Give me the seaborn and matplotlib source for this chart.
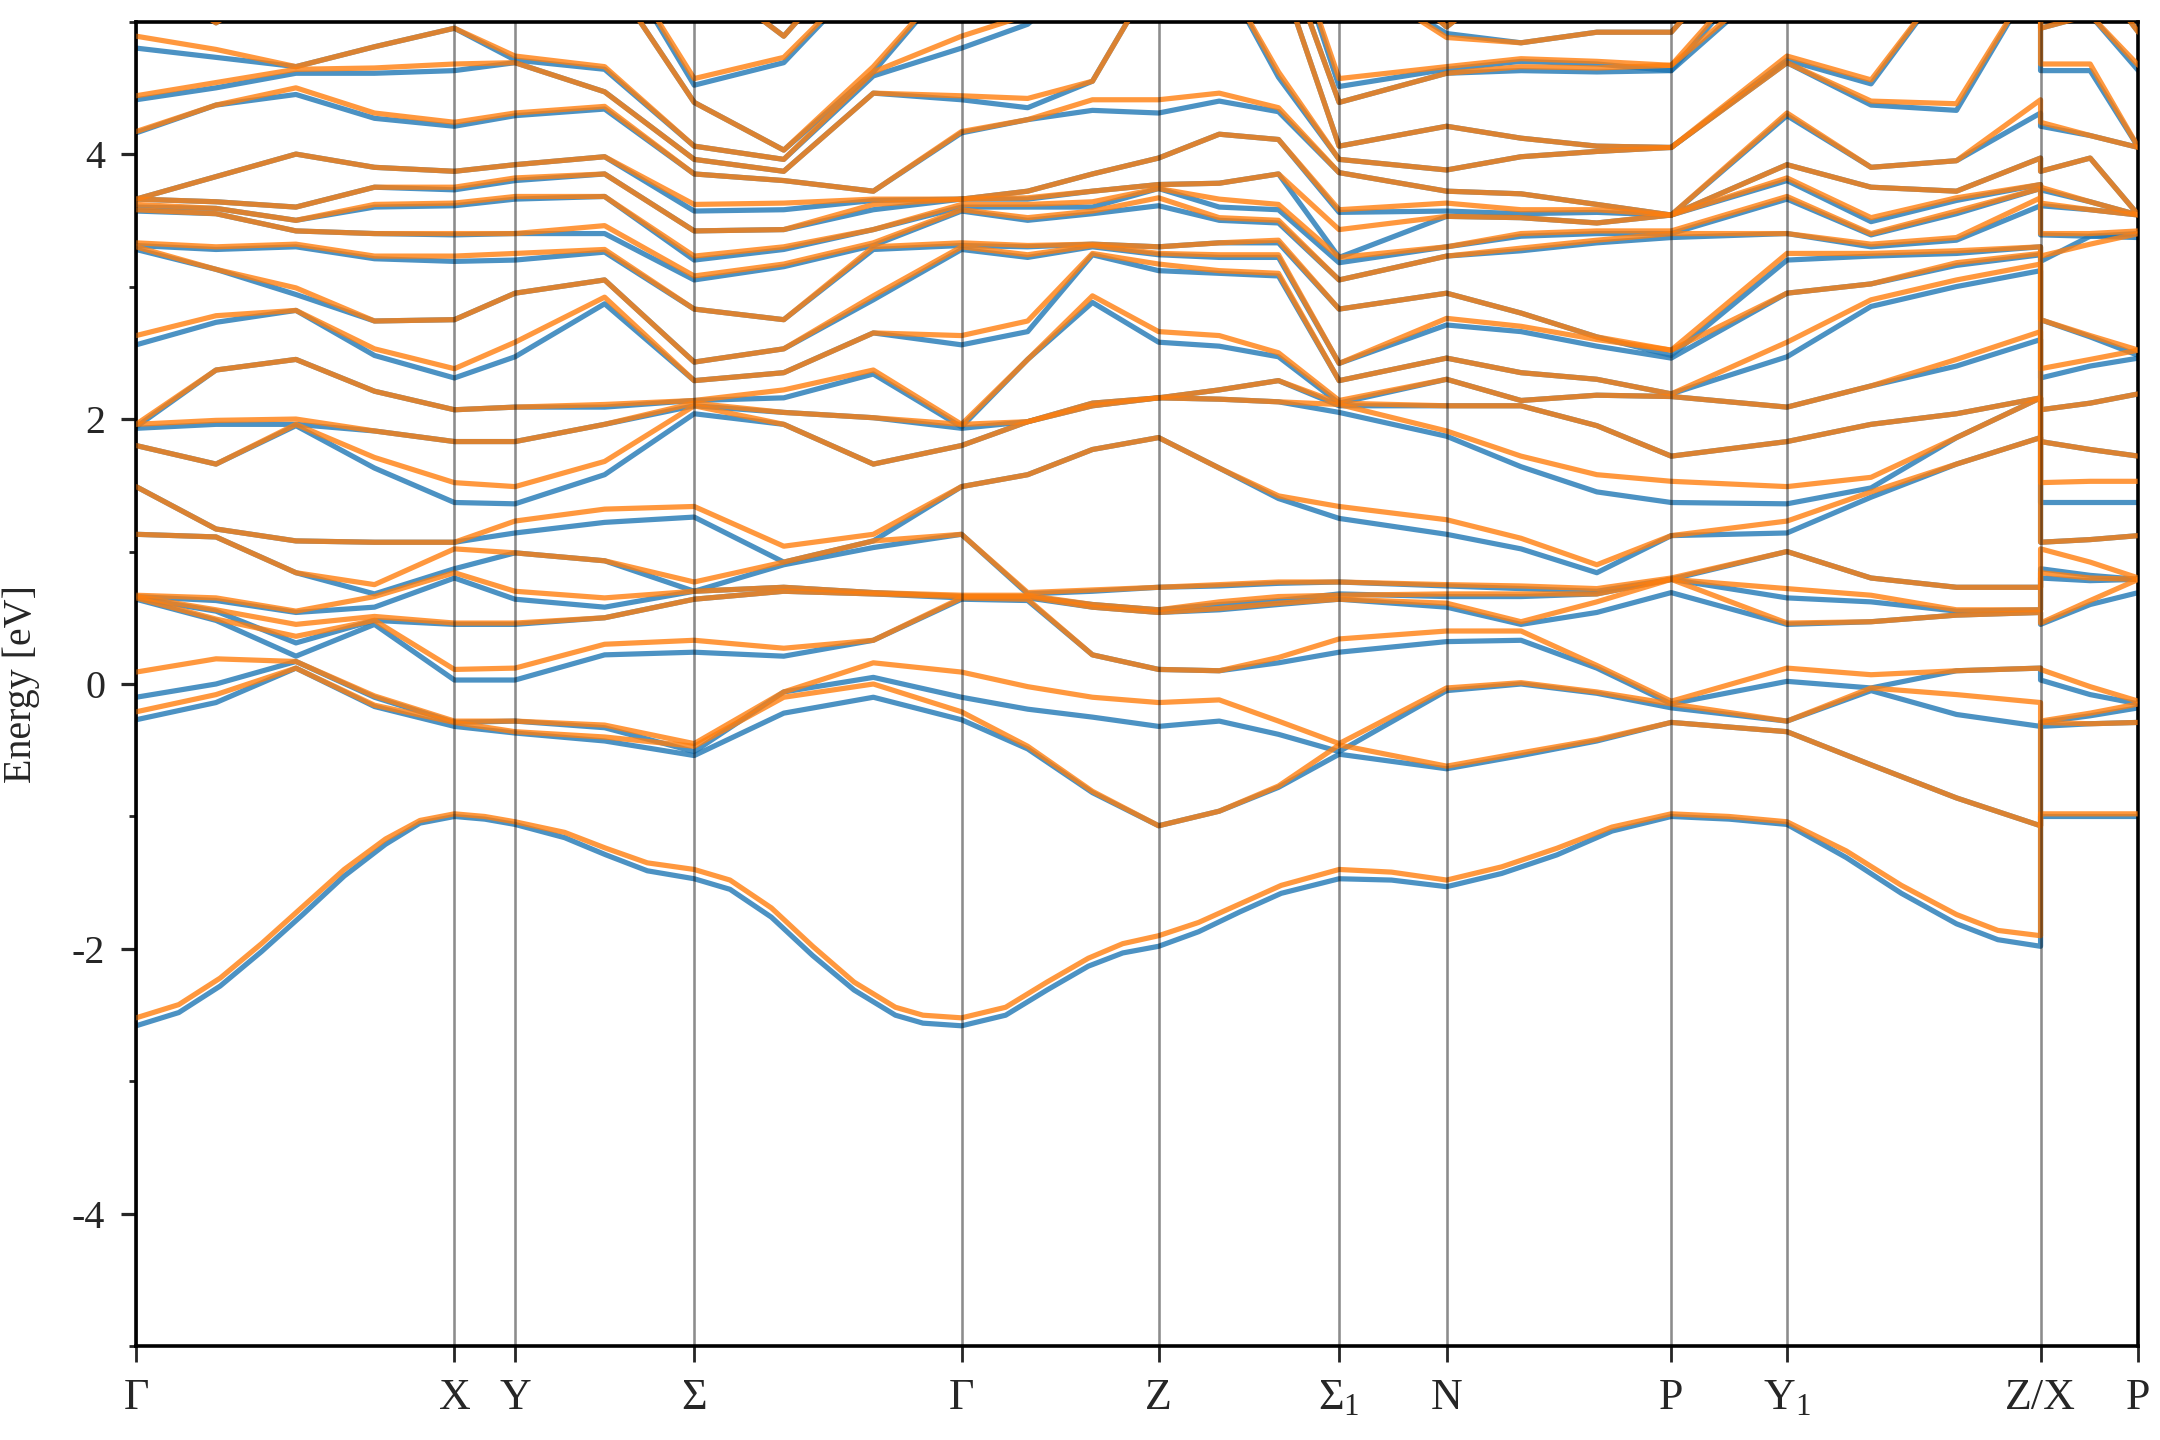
import numpy as np
import pandas as pd
import matplotlib
matplotlib.use("Agg")
import matplotlib.pyplot as plt
import seaborn as sns

sns.set_theme(style="ticks")
plt.rcParams["font.family"] = ["Liberation Serif", "DejaVu Serif"]
plt.rcParams["mathtext.fontset"] = "custom"
plt.rcParams["mathtext.rm"] = "Liberation Serif"
plt.rcParams["mathtext.it"] = "Liberation Serif"
plt.rcParams["axes.unicode_minus"] = False

# ---------------- path ----------------
label_pos = [0.00, 2.31, 2.75, 4.05, 5.99, 7.42, 8.73, 9.51, 11.14, 11.98, 13.82, 14.53]
label_txt = ["Γ", "X", "Y", "Σ", "Γ", "Z", "Σ$_1$", "N", "P", "Y$_1$", "Z/X", "P"]

# ---------------- lowest band (densely read) ----------------
low_k = [0.00, 0.31, 0.61, 0.91, 1.21, 1.51, 1.81, 2.06, 2.31, 2.53, 2.75, 3.11, 3.41, 3.71,
         4.05, 4.31, 4.61, 4.91, 5.21, 5.51, 5.71, 5.99, 6.31, 6.61, 6.91, 7.16, 7.42, 7.71,
         8.01, 8.31, 8.73, 9.11, 9.51, 9.91, 10.31, 10.71, 11.14, 11.56, 11.98, 12.41, 12.81,
         13.21, 13.51, 13.82, 13.82, 14.53]
low_B = [-2.58, -2.48, -2.28, -2.02, -1.74, -1.45, -1.21, -1.05, -1.00, -1.02, -1.06, -1.16, -1.29, -1.41,
         -1.47, -1.55, -1.76, -2.05, -2.31, -2.50, -2.56, -2.58, -2.50, -2.31, -2.13, -2.03, -1.98, -1.87,
         -1.72, -1.58, -1.47, -1.48, -1.53, -1.43, -1.29, -1.11, -1.00, -1.02, -1.06, -1.31, -1.58,
         -1.81, -1.93, -1.98, -1.00, -1.00]
low_O = [-2.52, -2.42, -2.22, -1.96, -1.68, -1.40, -1.17, -1.03, -0.98, -1.00, -1.04, -1.12, -1.24, -1.35,
         -1.40, -1.48, -1.69, -1.98, -2.25, -2.44, -2.50, -2.52, -2.44, -2.25, -2.07, -1.96, -1.90, -1.80,
         -1.66, -1.52, -1.40, -1.42, -1.48, -1.38, -1.24, -1.08, -0.98, -1.00, -1.04, -1.26, -1.52,
         -1.74, -1.86, -1.90, -0.98, -0.98]

# ---------------- other bands, read column by column ----------------
kcols = [0.00, 0.58, 1.16, 1.73, 2.31, 2.75, 3.40, 4.05, 4.70, 5.35, 5.99,
         6.47, 6.94, 7.42, 7.86, 8.29, 8.73, 9.51, 10.05, 10.60, 11.14,
         11.98, 12.59, 13.21, 13.82, 13.82, 14.18, 14.53]

# B_* : spin channel 1 (blue), O_* : spin channel 2 (orange), energies in eV
B_G = [-0.27, -0.10, 0.64, 0.65, 0.66, 1.13, 1.49, 1.80, 1.93, 1.94, 2.56, 3.28, 3.31, 3.57, 3.60, 3.66, 3.66, 4.16, 4.41, 4.80]
O_G = [-0.21, 0.09, 0.65, 0.66, 0.67, 1.13, 1.49, 1.80, 1.96, 1.96, 2.63, 3.30, 3.33, 3.58, 3.62, 3.66, 3.66, 4.17, 4.44, 4.89]

B_c1 = [-0.14, 0.00, 0.48, 0.55, 0.63, 1.11, 1.17, 1.66, 1.96, 2.37, 2.73, 3.13, 3.28, 3.55, 3.59, 3.64, 3.83, 4.37, 4.50, 4.73, 4.99]
O_c1 = [-0.08, 0.19, 0.49, 0.56, 0.65, 1.11, 1.17, 1.66, 1.99, 2.37, 2.78, 3.13, 3.30, 3.55, 3.59, 3.64, 3.83, 4.37, 4.54, 4.79, 4.99]

B_c2 = [0.12, 0.17, 0.21, 0.31, 0.54, 0.84, 1.08, 1.95, 1.96, 2.45, 2.82, 2.94, 3.30, 3.42, 3.50, 3.60, 4.00, 4.45, 4.61, 4.66]
O_c2 = [0.12, 0.17, 0.36, 0.45, 0.55, 0.84, 1.08, 1.96, 2.00, 2.45, 2.82, 2.99, 3.32, 3.42, 3.50, 3.60, 4.00, 4.50, 4.64, 4.66]

B_c3 = [-0.17, -0.10, 0.45, 0.48, 0.58, 0.68, 1.07, 1.63, 1.91, 2.21, 2.48, 2.74, 3.21, 3.40, 3.60, 3.75, 3.90, 4.27, 4.61, 4.81]
O_c3 = [-0.16, -0.09, 0.48, 0.51, 0.66, 0.75, 1.07, 1.71, 1.91, 2.21, 2.53, 2.74, 3.23, 3.40, 3.62, 3.75, 3.90, 4.31, 4.65, 4.81]

B_X = [-0.32, -0.29, 0.03, 0.45, 0.80, 0.87, 1.07, 1.37, 1.83, 2.07, 2.31, 2.75, 3.19, 3.39, 3.61, 3.73, 3.87, 4.21, 4.63, 4.95]
O_X = [-0.29, -0.28, 0.11, 0.46, 0.84, 1.02, 1.07, 1.52, 1.83, 2.07, 2.38, 2.75, 3.23, 3.40, 3.63, 3.75, 3.87, 4.24, 4.68, 4.95]

B_Y = [-0.37, -0.28, 0.03, 0.45, 0.64, 0.99, 1.14, 1.36, 1.83, 2.09, 2.47, 2.95, 3.20, 3.40, 3.66, 3.80, 3.92, 4.29, 4.69, 4.71]
O_Y = [-0.36, -0.28, 0.12, 0.46, 0.70, 0.99, 1.23, 1.49, 1.83, 2.09, 2.58, 2.95, 3.25, 3.40, 3.68, 3.82, 3.92, 4.31, 4.69, 4.74]

B_c7 = [-0.43, -0.33, 0.22, 0.50, 0.58, 0.93, 1.22, 1.58, 1.96, 2.09, 2.87, 3.05, 3.26, 3.40, 3.68, 3.85, 3.98, 4.34, 4.47, 4.64]
O_c7 = [-0.40, -0.31, 0.30, 0.50, 0.65, 0.93, 1.32, 1.68, 1.96, 2.11, 2.92, 3.05, 3.28, 3.46, 3.68, 3.85, 3.98, 4.36, 4.47, 4.66]

B_S = [-0.54, -0.51, 0.24, 0.64, 0.70, 0.70, 1.26, 2.04, 2.10, 2.14, 2.29, 2.43, 2.83, 3.05, 3.20, 3.42, 3.57, 3.85, 3.96, 4.06, 4.39, 4.52]
O_S = [-0.47, -0.45, 0.33, 0.64, 0.70, 0.77, 1.34, 2.10, 2.12, 2.14, 2.29, 2.43, 2.83, 3.08, 3.23, 3.42, 3.62, 3.85, 3.96, 4.06, 4.39, 4.57]

B_c9 = [-0.22, -0.06, 0.21, 0.70, 0.73, 0.90, 0.92, 1.96, 2.05, 2.16, 2.35, 2.53, 2.75, 3.15, 3.28, 3.43, 3.58, 3.80, 3.87, 3.96, 4.03, 4.69, 4.89]
O_c9 = [-0.10, -0.06, 0.27, 0.70, 0.73, 0.92, 1.04, 1.96, 2.05, 2.22, 2.35, 2.53, 2.75, 3.17, 3.30, 3.43, 3.63, 3.80, 3.87, 3.96, 4.03, 4.73, 4.89]

B_c10 = [-0.10, 0.05, 0.33, 0.68, 0.69, 1.03, 1.08, 1.66, 2.01, 2.34, 2.65, 2.90, 3.28, 3.31, 3.43, 3.58, 3.65, 3.72, 4.46, 4.59, 4.62]
O_c10 = [0.00, 0.16, 0.33, 0.68, 0.69, 1.08, 1.13, 1.66, 2.01, 2.37, 2.65, 2.93, 3.30, 3.33, 3.43, 3.62, 3.66, 3.72, 4.46, 4.62, 4.66]

B_c12 = [-0.49, -0.19, 0.63, 0.65, 0.66, 0.68, 1.58, 1.98, 1.98, 2.45, 2.66, 3.22, 3.30, 3.50, 3.60, 3.66, 3.72, 4.26, 4.35, 4.98]
O_c12 = [-0.47, -0.02, 0.64, 0.66, 0.67, 0.69, 1.58, 1.98, 1.98, 2.45, 2.74, 3.24, 3.31, 3.52, 3.62, 3.67, 3.72, 4.26, 4.42, 5.05]

B_c13 = [-0.82, -0.25, 0.22, 0.58, 0.60, 0.70, 1.77, 2.10, 2.12, 2.88, 3.24, 3.30, 3.32, 3.55, 3.60, 3.72, 3.85, 4.33, 4.55]
O_c13 = [-0.81, -0.10, 0.22, 0.58, 0.60, 0.71, 1.77, 2.10, 2.12, 2.93, 3.25, 3.31, 3.32, 3.57, 3.64, 3.72, 3.85, 4.41, 4.55]

B_Z = [-1.07, -0.32, 0.11, 0.54, 0.56, 0.73, 1.86, 2.16, 2.16, 2.58, 3.12, 3.24, 3.30, 3.61, 3.74, 3.77, 3.97, 4.31]
O_Z = [-1.07, -0.14, 0.11, 0.54, 0.56, 0.73, 1.86, 2.16, 2.16, 2.66, 3.17, 3.25, 3.30, 3.67, 3.74, 3.77, 3.97, 4.41]

B_c15 = [-0.96, -0.28, 0.10, 0.56, 0.60, 0.74, 1.63, 2.15, 2.22, 2.55, 3.10, 3.22, 3.33, 3.50, 3.60, 3.78, 4.15, 4.40]
O_c15 = [-0.96, -0.12, 0.10, 0.57, 0.62, 0.75, 1.63, 2.15, 2.22, 2.63, 3.12, 3.24, 3.33, 3.52, 3.66, 3.78, 4.15, 4.46]

B_c16 = [-0.78, -0.38, 0.16, 0.60, 0.63, 0.76, 1.40, 2.13, 2.29, 2.47, 3.08, 3.22, 3.33, 3.48, 3.58, 3.85, 4.11, 4.32, 4.58]
O_c16 = [-0.77, -0.28, 0.20, 0.61, 0.66, 0.77, 1.42, 2.13, 2.29, 2.50, 3.10, 3.24, 3.35, 3.50, 3.62, 3.85, 4.11, 4.35, 4.62]

B_S1 = [-0.53, -0.51, 0.24, 0.64, 0.68, 0.77, 1.25, 2.05, 2.10, 2.12, 2.29, 2.42, 2.83, 3.05, 3.18, 3.22, 3.56, 3.86, 3.96, 4.06, 4.39, 4.51]
O_S1 = [-0.46, -0.45, 0.34, 0.64, 0.67, 0.77, 1.34, 2.11, 2.12, 2.14, 2.29, 2.42, 2.83, 3.05, 3.22, 3.43, 3.58, 3.86, 3.96, 4.06, 4.39, 4.57]

B_N = [-0.64, -0.05, 0.32, 0.58, 0.66, 0.74, 1.13, 1.87, 2.10, 2.30, 2.46, 2.71, 2.95, 3.23, 3.30, 3.53, 3.57, 3.72, 3.88, 4.21, 4.61, 4.64, 4.91, 4.96]
O_N = [-0.62, -0.03, 0.40, 0.61, 0.68, 0.75, 1.24, 1.91, 2.10, 2.30, 2.46, 2.76, 2.95, 3.23, 3.30, 3.53, 3.63, 3.72, 3.88, 4.21, 4.61, 4.66, 4.88, 4.96]

B_c20 = [-0.54, 0.00, 0.33, 0.45, 0.66, 0.72, 1.02, 1.64, 2.10, 2.14, 2.35, 2.66, 2.80, 3.27, 3.38, 3.52, 3.55, 3.70, 3.98, 4.12, 4.63, 4.70, 4.84]
O_c20 = [-0.52, 0.01, 0.40, 0.47, 0.68, 0.74, 1.10, 1.72, 2.10, 2.14, 2.35, 2.70, 2.80, 3.29, 3.40, 3.52, 3.58, 3.70, 3.98, 4.12, 4.66, 4.72, 4.84]

B_c21 = [-0.43, -0.07, 0.12, 0.54, 0.68, 0.70, 0.84, 1.45, 1.95, 2.18, 2.30, 2.55, 2.62, 3.33, 3.40, 3.48, 3.56, 3.62, 4.02, 4.06, 4.62, 4.68, 4.92]
O_c21 = [-0.42, -0.06, 0.14, 0.62, 0.68, 0.72, 0.90, 1.58, 1.95, 2.18, 2.30, 2.60, 2.62, 3.35, 3.42, 3.48, 3.58, 3.62, 4.02, 4.06, 4.65, 4.70, 4.92]

B_P = [-0.29, -0.18, -0.15, 0.69, 0.79, 0.79, 1.12, 1.37, 1.72, 2.17, 2.19, 2.46, 2.48, 3.37, 3.40, 3.54, 3.54, 3.54, 4.05, 4.05, 4.63, 4.63, 4.92]
O_P = [-0.29, -0.15, -0.13, 0.79, 0.79, 0.80, 1.12, 1.53, 1.72, 2.17, 2.19, 2.52, 2.52, 3.40, 3.42, 3.54, 3.54, 3.54, 4.05, 4.05, 4.67, 4.67, 4.92]

B_Y1 = [-0.36, -0.28, 0.02, 0.45, 0.65, 1.00, 1.14, 1.36, 1.83, 2.09, 2.47, 2.95, 3.20, 3.40, 3.66, 3.80, 3.92, 4.29, 4.69, 4.71]
O_Y1 = [-0.36, -0.28, 0.12, 0.46, 0.72, 1.00, 1.23, 1.49, 1.83, 2.09, 2.58, 2.95, 3.25, 3.40, 3.68, 3.82, 3.92, 4.31, 4.69, 4.74]

B_c25 = [-0.61, -0.05, -0.03, 0.47, 0.62, 0.80, 1.41, 1.48, 1.96, 2.25, 2.85, 3.02, 3.23, 3.30, 3.39, 3.49, 3.75, 3.90, 4.37, 4.53]
O_c25 = [-0.61, -0.03, 0.07, 0.47, 0.67, 0.80, 1.45, 1.56, 1.96, 2.25, 2.90, 3.02, 3.25, 3.32, 3.40, 3.52, 3.75, 3.90, 4.40, 4.56]

B_c26 = [-0.86, -0.23, 0.10, 0.52, 0.55, 0.73, 1.66, 1.86, 2.04, 2.40, 3.00, 3.16, 3.25, 3.35, 3.55, 3.65, 3.72, 3.95, 4.33]
O_c26 = [-0.86, -0.08, 0.10, 0.52, 0.56, 0.73, 1.66, 1.86, 2.04, 2.45, 3.05, 3.18, 3.27, 3.37, 3.57, 3.67, 3.72, 3.95, 4.38]

B_Z2 = [-1.07, -0.32, 0.12, 0.54, 0.56, 0.73, 1.86, 2.16, 2.16, 2.60, 3.12, 3.24, 3.30, 3.61, 3.74, 3.77, 3.97, 4.31]
O_Z2 = [-1.07, -0.14, 0.12, 0.54, 0.56, 0.73, 1.86, 2.16, 2.16, 2.66, 3.17, 3.25, 3.30, 3.67, 3.74, 3.77, 3.97, 4.41]

# X -> P branch after the Z|X jump
B_X2 = [-0.32, -0.29, 0.03, 0.45, 0.80, 0.87, 1.07, 1.37, 1.83, 2.07, 2.31, 2.75, 3.19, 3.39, 3.61, 3.73, 3.87, 4.21, 4.63, 4.95]
O_X2 = [-0.29, -0.28, 0.11, 0.46, 0.84, 1.02, 1.07, 1.52, 1.83, 2.07, 2.38, 2.75, 3.23, 3.40, 3.63, 3.75, 3.87, 4.24, 4.68, 4.95]

B_cXP = [-0.30, -0.24, -0.08, 0.60, 0.78, 0.82, 1.09, 1.37, 1.77, 2.12, 2.40, 2.62, 3.38, 3.38, 3.58, 3.64, 3.97, 4.14, 4.63, 5.05]
O_cXP = [-0.30, -0.22, -0.02, 0.63, 0.80, 0.92, 1.09, 1.53, 1.77, 2.12, 2.45, 2.63, 3.32, 3.40, 3.58, 3.64, 3.97, 4.14, 4.68, 5.05]

B_P2 = [-0.29, -0.18, -0.15, 0.69, 0.79, 0.79, 1.12, 1.37, 1.72, 2.19, 2.46, 2.48, 3.37, 3.40, 3.54, 3.54, 3.54, 4.05, 4.05, 4.63, 4.92]
O_P2 = [-0.29, -0.15, -0.13, 0.79, 0.79, 0.80, 1.12, 1.53, 1.72, 2.19, 2.52, 2.52, 3.40, 3.42, 3.54, 3.54, 3.54, 4.05, 4.05, 4.67, 4.92]

blue_cols = [B_G, B_c1, B_c2, B_c3, B_X, B_Y, B_c7, B_S, B_c9, B_c10, B_G,
             B_c12, B_c13, B_Z, B_c15, B_c16, B_S1, B_N, B_c20, B_c21, B_P,
             B_Y1, B_c25, B_c26, B_Z2, B_X2, B_cXP, B_P2]
orange_cols = [O_G, O_c1, O_c2, O_c3, O_X, O_Y, O_c7, O_S, O_c9, O_c10, O_G,
               O_c12, O_c13, O_Z, O_c15, O_c16, O_S1, O_N, O_c20, O_c21, O_P,
               O_Y1, O_c25, O_c26, O_Z2, O_X2, O_cXP, O_P2]


def to_long(cols, low_e, nb=26):
    rows = [(0, j, k, e) for j, (k, e) in enumerate(zip(low_k, low_e))]
    for j, col in enumerate(cols):
        vals = sorted(col)
        # bands that have left the window continue above the top edge
        vals = vals + [5.4 + 0.25 * i for i in range(nb - len(vals))]
        for b, e in enumerate(vals):
            rows.append((b + 1, j, kcols[j], e))
    df = pd.DataFrame(rows, columns=["band", "col", "k", "E"])
    return df.sort_values(["band", "col"], kind="stable")


df_b = to_long(blue_cols, low_B)
df_o = to_long(orange_cols, low_O)

fig, ax = plt.subplots(figsize=(15, 10), dpi=144)
fig.subplots_adjust(left=0.063, right=0.990, top=0.985, bottom=0.065)

sns.lineplot(data=df_b, x="k", y="E", units="band", estimator=None, sort=False,
             color="#1f77b4", lw=2.6, alpha=0.8, ax=ax, legend=False, zorder=2)
sns.lineplot(data=df_o, x="k", y="E", units="band", estimator=None, sort=False,
             color="#ff7f0e", lw=2.6, alpha=0.8, ax=ax, legend=False, zorder=3)

for p in label_pos:
    ax.axvline(p, color="black", lw=1.3, alpha=0.45, zorder=4)

ax.set_xlim(label_pos[0], label_pos[-1])
ax.set_ylim(-5, 5)
ax.set_xticks(label_pos)
ax.set_xticklabels(label_txt, fontsize=22)
ax.set_yticks([-4, -2, 0, 2, 4])
ax.set_yticks([-5, -3, -1, 1, 3, 5], minor=True)
ax.tick_params(axis="y", which="major", labelsize=20, direction="out", length=7.5, width=1.6, pad=8)
ax.tick_params(axis="y", which="minor", direction="out", length=3.5, width=1.4)
ax.tick_params(axis="x", which="major", direction="out", length=8, width=1.4, pad=8)
ax.set_xlabel("")
ax.set_ylabel("Energy [eV]", fontsize=20)
ax.yaxis.set_label_coords(-0.048, 0.5)
for s in ax.spines.values():
    s.set_linewidth(1.8)
    s.set_color("black")

fig.savefig("out.png", dpi=144)
